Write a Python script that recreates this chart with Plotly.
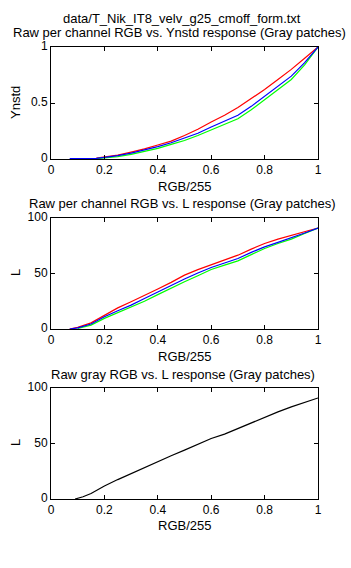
import plotly.graph_objects as go

x_ch = [0.07, 0.10, 0.17, 0.20, 0.25, 0.30, 0.35, 0.40, 0.45, 0.50, 0.55, 0.60, 0.65, 0.70, 0.75, 0.80, 0.85, 0.90, 0.95, 1.00]
y_red = [None, None, 0.008, 0.018, 0.035, 0.062, 0.09, 0.125, 0.16, 0.21, 0.265, 0.33, 0.39, 0.46, 0.54, 0.62, 0.71, 0.80, 0.90, 1.0]
y_green = [None, None, 0.003, 0.01, 0.022, 0.042, 0.068, 0.095, 0.13, 0.165, 0.21, 0.26, 0.31, 0.36, 0.44, 0.53, 0.615, 0.71, 0.84, 1.0]
y_blue = [0.003, 0.003, 0.006, 0.015, 0.03, 0.052, 0.08, 0.11, 0.145, 0.185, 0.23, 0.285, 0.335, 0.39, 0.47, 0.56, 0.645, 0.74, 0.86, 1.0]

x_l = [0.07, 0.10, 0.15, 0.20, 0.25, 0.30, 0.35, 0.40, 0.45, 0.50, 0.55, 0.60, 0.65, 0.70, 0.75, 0.80, 0.85, 0.90, 0.95, 1.00]
l_red = [0.0, 1.5, 5.5, 12.5, 19, 24.5, 30, 36, 42, 48.5, 53.5, 58, 62, 66.5, 72, 77, 81, 84.5, 88, 91]
l_green = [None, 0.5, 3.5, 9.6, 14.5, 19.5, 25, 31, 37, 42.5, 48, 53.6, 57.5, 61.4, 67, 72.5, 77, 81, 86, 91]
l_blue = [0.0, 1.0, 4.5, 11, 16.5, 21.5, 27.5, 33.5, 39.5, 45, 50.5, 55.4, 59.5, 63.5, 69, 74, 78, 82, 86.5, 91]

x_gray = [0.09, 0.12, 0.15, 0.20, 0.25, 0.30, 0.35, 0.40, 0.45, 0.50, 0.55, 0.60, 0.65, 0.70, 0.75, 0.80, 0.85, 0.90, 0.95, 1.00]
l_gray = [0.0, 2, 5, 11.7, 17.5, 23, 28.5, 34, 39, 44, 49.5, 54.5, 58.5, 63.5, 69, 74, 78.5, 83, 87, 91]

W, H = 351, 568
FONT = "Liberation Sans, Arial, sans-serif"
TICK_FS = 12
TEXT_FS = 13

def py(p):
    return 1 - p / H

x_dom = [51 / W, 318 / W]
panels = [(47, 159), (218, 329), (388, 499)]

fig = go.Figure()

def add(x, y, color, ax):
    fig.add_trace(go.Scatter(x=x, y=y, mode="lines", line=dict(color=color, width=1.2),
                             xaxis="x" + ax, yaxis="y" + ax, showlegend=False))

add(x_ch, y_red, "#ff0000", "")
add(x_ch, y_green, "#00ff00", "")
add(x_ch, y_blue, "#0000ff", "")
add(x_l, l_red, "#ff0000", "2")
add(x_l, l_green, "#00ff00", "2")
add(x_l, l_blue, "#0000ff", "2")
add(x_gray, l_gray, "#000000", "3")

axis_common = dict(showgrid=False, zeroline=False, showline=True, linecolor="black", linewidth=1,
                   mirror="ticks", ticks="inside", ticklen=4, tickcolor="black", automargin=False,
                   tickfont=dict(family=FONT, size=TICK_FS, color="black"))

layout = dict(width=W, height=H, margin=dict(l=0, r=0, t=0, b=0, pad=0), autosize=False,
              paper_bgcolor="white", plot_bgcolor="white",
              font=dict(family=FONT, size=TICK_FS, color="black"))

yranges = [[0, 1], [0, 100], [0, 100]]
ytv = [[0, 0.5, 1], [0, 50, 100], [0, 50, 100]]
ytt = [["0", "0.5", "1"], ["0", "50", "100"], ["0", "50", "100"]]
for i, (top, bot) in enumerate(panels):
    sfx = "" if i == 0 else str(i + 1)
    layout["xaxis" + sfx] = dict(axis_common, domain=x_dom, range=[0, 1],
                                 tickvals=[0, 0.2, 0.4, 0.6, 0.8, 1],
                                 ticktext=["0", "0.2", "0.4", "0.6", "0.8", "1"],
                                 anchor="y" + sfx)
    layout["yaxis" + sfx] = dict(axis_common, domain=[py(bot), py(top)], range=yranges[i],
                                 tickvals=ytv[i], ticktext=ytt[i], anchor="x" + sfx,
                                 ticklabelshift=-1)

fig.update_layout(**layout)

def ann(text, xpx, ypx, angle=0):
    fig.add_annotation(text=text, x=xpx / W, y=py(ypx), xref="paper", yref="paper",
                       showarrow=False, xanchor="center", yanchor="middle", textangle=angle,
                       borderpad=0,
                       font=dict(family=FONT, size=TEXT_FS, color="black"))

ann("data/T_Nik_IT8_velv_g25_cmoff_form.txt", 182, 18.5)
ann("Raw per channel RGB vs. Ynstd response (Gray patches)", 180, 33)
ann("RGB/255", 184, 186)
ann("Raw per channel RGB vs. L response (Gray patches)", 182, 203.5)
ann("RGB/255", 184, 356)
ann("Raw gray RGB vs. L response (Gray patches)", 183, 374)
ann("RGB/255", 184, 525)
ann("Ynstd", 15, 103, -90)
ann("L", 15, 273, -90)
ann("L", 15, 443, -90)

fig.write_html("out.html", config={"responsive": False})
